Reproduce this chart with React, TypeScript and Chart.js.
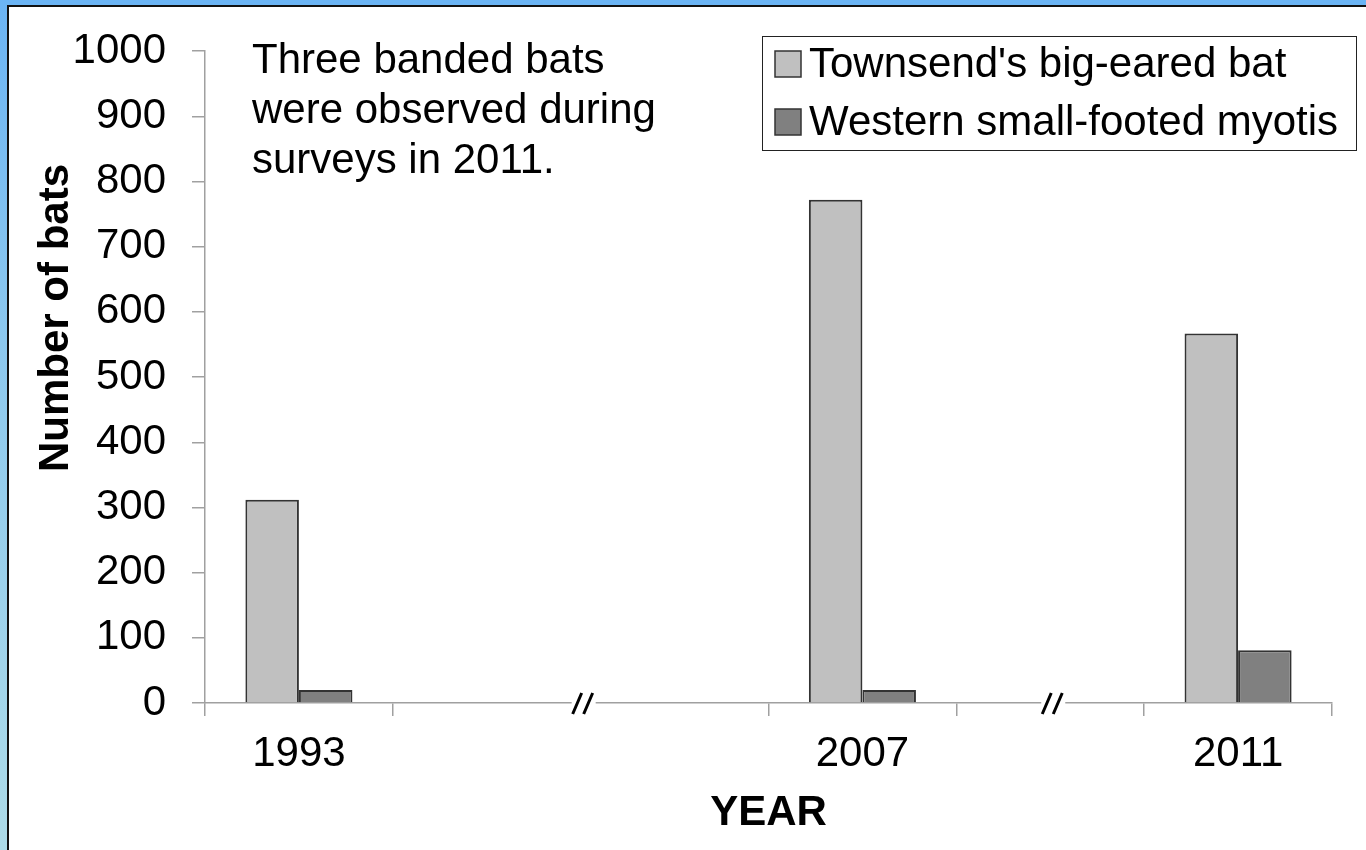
import React, { useEffect, useRef } from "react";
import { Chart, registerables } from "chart.js";

Chart.register(...registerables);

// ---- data ----
const categories = ["1993", "", "", "2007", "", "2011"];
const townsendValues = [312, null, null, 772, null, 567];
const westernValues = [20, null, null, 20, null, 81];
const seriesLabels = ["Townsend's big-eared bat", "Western small-footed myotis"];
const seriesColors = ["#c0c0c0", "#808080"];
const yMin = 0;
const yMax = 1000;
const yStep = 100;
const noteLines = ["Three banded bats", "were observed during", "surveys in 2011."];
const axisBreaks = [1.5, 4]; // positions on the category axis
const yAxisTitle = "Number of bats";
const xAxisTitle = "YEAR";

const FONT = "'Liberation Sans', Arial, Helvetica, sans-serif";

const overlayPlugin = {
  id: "overlay",
  afterDraw(chart: any) {
    const ctx: CanvasRenderingContext2D = chart.ctx;
    const xs = chart.scales.x;
    const ys = chart.scales.y;
    const area = chart.chartArea;
    ctx.save();

    // axis break marks
    const py = ys.getPixelForValue(0);
    for (const b of axisBreaks) {
      const px = xs.getPixelForValue(b) + 1;
      ctx.fillStyle = "#ffffff";
      ctx.fillRect(px - 10, py - 4, 24, 18);
      ctx.strokeStyle = "#000000";
      ctx.lineWidth = 3;
      ctx.beginPath();
      ctx.moveTo(px - 9, py + 11);
      ctx.lineTo(px, py - 10);
      ctx.moveTo(px + 2, py + 11);
      ctx.lineTo(px + 11, py - 10);
      ctx.stroke();
    }

    // note text
    ctx.fillStyle = "#000000";
    ctx.font = `42px ${FONT}`;
    ctx.textAlign = "left";
    ctx.textBaseline = "middle";
    noteLines.forEach((line, i) => {
      ctx.fillText(line, area.left + 47, 61 + i * 50);
    });

    // legend
    const lx = 762.5;
    const ly = 36.5;
    const lw = 594;
    const lh = 114;
    ctx.fillStyle = "#ffffff";
    ctx.fillRect(lx, ly, lw, lh);
    ctx.strokeStyle = "#222222";
    ctx.lineWidth = 1;
    ctx.strokeRect(lx, ly, lw, lh);
    chart.data.datasets.forEach((ds: any, i: number) => {
      const cy = 64 + i * 58;
      ctx.fillStyle = ds.backgroundColor;
      ctx.fillRect(775, cy - 13, 26, 26);
      ctx.strokeStyle = "#333333";
      ctx.lineWidth = 1.5;
      ctx.strokeRect(775, cy - 13, 26, 26);
      ctx.fillStyle = "#000000";
      ctx.font = `42px ${FONT}`;
      ctx.textAlign = "left";
      ctx.textBaseline = "middle";
      ctx.fillText(ds.label, 809, cy + 1);
    });

    // axis titles
    ctx.font = `bold 42px ${FONT}`;
    ctx.textAlign = "center";
    ctx.textBaseline = "middle";
    ctx.fillStyle = "#000000";
    ctx.fillText(xAxisTitle, (area.left + area.right) / 2, 813);
    ctx.translate(56, 318);
    ctx.rotate(-Math.PI / 2);
    ctx.fillText(yAxisTitle, 0, 0);

    ctx.restore();
  },
};

export default function App() {
  const canvasRef = useRef<HTMLCanvasElement>(null);

  useEffect(() => {
    const canvas = canvasRef.current;
    if (!canvas) return;
    const chart = new Chart(canvas, {
      type: "bar",
      data: {
        labels: categories,
        datasets: [
          {
            label: seriesLabels[0],
            data: townsendValues as any,
            backgroundColor: seriesColors[0],
            borderColor: "#333333",
            borderWidth: 2,
          },
          {
            label: seriesLabels[1],
            data: westernValues as any,
            backgroundColor: seriesColors[1],
            borderColor: "#333333",
            borderWidth: 2,
          },
        ],
      },
      options: {
        responsive: false,
        animation: false,
        devicePixelRatio: 1,
        layout: { padding: { top: 50, right: 34, left: 0, bottom: 0 } },
        datasets: { bar: { categoryPercentage: 0.57, barPercentage: 1.0 } },
        plugins: {
          legend: { display: false },
          tooltip: { enabled: false },
          title: { display: false },
        },
        scales: {
          x: {
            offset: true,
            afterFit: (s: any) => {
              s.height = 147;
            },
            grid: {
              display: true,
              offset: true,
              drawOnChartArea: false,
              drawTicks: true,
              tickLength: 13,
              color: "#a0a0a0",
              lineWidth: 1.5,
            },
            border: { display: true, color: "#a0a0a0", width: 1.5 },
            ticks: {
              autoSkip: false,
              maxRotation: 0,
              minRotation: 0,
              padding: 13,
              color: "#000000",
              font: { family: FONT, size: 42 },
            },
          },
          y: {
            min: yMin,
            max: yMax,
            afterFit: (s: any) => {
              s.width = 205;
            },
            grid: {
              display: true,
              drawOnChartArea: false,
              drawTicks: true,
              tickLength: 13,
              color: "#a0a0a0",
              lineWidth: 1.5,
            },
            border: { display: true, color: "#a0a0a0", width: 1.5 },
            ticks: {
              stepSize: yStep,
              autoSkip: false,
              padding: 26,
              color: "#000000",
              font: { family: FONT, size: 42 },
              callback: (v: any) => String(v),
            },
          },
        },
      },
      plugins: [overlayPlugin],
    });
    return () => chart.destroy();
  }, []);

  return (
    <div
      style={{
        position: "fixed",
        left: 0,
        top: 0,
        width: 1366,
        height: 850,
        background: "#ffffff",
        overflow: "hidden",
      }}
    >
      <canvas
        ref={canvasRef}
        width={1366}
        height={850}
        style={{ position: "absolute", left: 0, top: 0, width: 1366, height: 850 }}
      />
      <div style={{ position: "absolute", left: 0, top: 0, width: 1366, height: 5, background: "#6bb4f4" }} />
      <div
        style={{
          position: "absolute",
          left: 0,
          top: 0,
          width: 7,
          height: 850,
          background: "linear-gradient(to bottom, #6bb4f4, #8cc8ee 40%, #addbe8)",
        }}
      />
      <div style={{ position: "absolute", left: 7, top: 5, width: 1359, height: 2, background: "#111111" }} />
      <div style={{ position: "absolute", left: 7, top: 5, width: 2, height: 845, background: "#111111" }} />
    </div>
  );
}
